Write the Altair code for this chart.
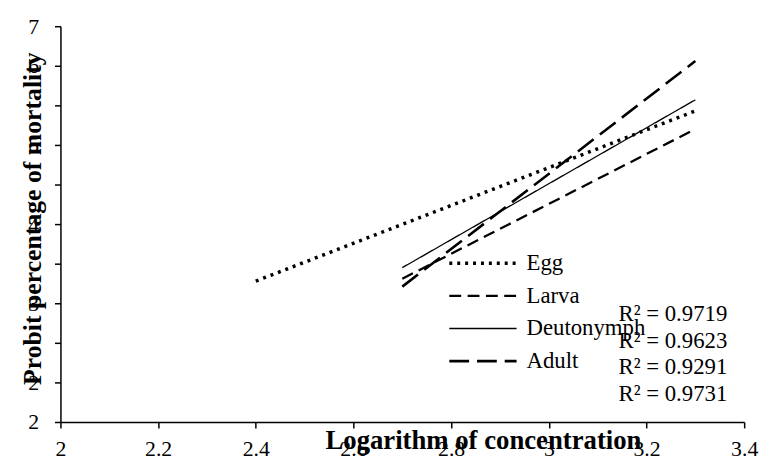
import altair as alt
import pandas as pd

# ---- data ----
series = ["Egg", "Larva", "Deutonymph", "Adult"]
x_start = [2.40, 2.70, 2.70, 2.70]
x_end = [3.30, 3.30, 3.30, 3.30]
y_start = [3.78, 3.81, 3.95, 3.71]
y_end = [5.93, 5.70, 6.07, 6.56]
r2_labels = ["R² = 0.9719", "R² = 0.9623", "R² = 0.9291", "R² = 0.9731"]
x_ticks = [2.0, 2.2, 2.4, 2.6, 2.8, 3.0, 3.2, 3.4]
y_ticks = [2.0, 2.5, 3.0, 3.5, 4.0, 4.5, 5.0, 5.5, 6.0, 6.5, 7.0]

dashes = [[3, 5], [12, 6.5], [1, 0], [20, 8]]
widths = [3.5, 2.3, 1.3, 2.6]

rows = []
for s, xs, xe, ys, ye in zip(series, x_start, x_end, y_start, y_end):
    rows.append({"series": s, "x": xs, "y": ys})
    rows.append({"series": s, "x": xe, "y": ye})
df = pd.DataFrame(rows)

FONT = "Times New Roman, Liberation Serif, serif"

legend = alt.Legend(
    title=None, orient="none", legendX=391, legendY=223,
    symbolType="stroke", symbolSize=4624, clipHeight=33, rowPadding=0,
    labelOffset=8, padding=0, labelFont=FONT, labelFontSize=23,
    labelColor="black", symbolStrokeColor="black",
)

lines = alt.Chart(df).mark_line(color="black").encode(
    x=alt.X("x:Q", scale=alt.Scale(domain=[2, 3.4], nice=False, zero=False),
            axis=alt.Axis(values=x_ticks, format="~g", title="Logarithm of concentration",
                          titleX=427, titleY=27, titleBaseline="alphabetic",
                          titleFontSize=27, titleFontWeight="bold", titleFont=FONT,
                          labelFontSize=22, labelPadding=11, labelFont=FONT)),
    y=alt.Y("y:Q", scale=alt.Scale(domain=[2, 7], nice=False, zero=False),
            axis=alt.Axis(values=y_ticks,
                          labelExpr="datum.value == 7 ? '7' : datum.value == 2 ? '2' : (datum.value % 1 != 0 ? format(floor(datum.value), 'd') : '')",
                          title="Probit percentage of mortality",
                          titleX=-20, titleY=194, titleAngle=-90, titleAlign="center",
                          titleBaseline="alphabetic",
                          titleFontSize=26, titleFontWeight="bold", titleFont=FONT,
                          labelFontSize=22, labelPadding=16, labelFont=FONT)),
    strokeDash=alt.StrokeDash("series:N", scale=alt.Scale(domain=series, range=dashes), legend=legend),
    strokeWidth=alt.StrokeWidth("series:N", scale=alt.Scale(type="ordinal", domain=series, range=widths), legend=legend),
    detail="series:N",
)

r2_text = alt.Chart(pd.DataFrame({"t": ["\n".join(r2_labels)]})).mark_text(
    align="left", baseline="alphabetic", font=FONT, fontSize=23, color="black",
    lineBreak="\n", lineHeight=27,
).encode(text="t:N", x=alt.value(564), y=alt.value(298))

chart = alt.layer(lines, r2_text).properties(
    width=691, height=400,
    autosize=alt.AutoSizeParams(type="none"),
    padding={"left": 53, "top": 16, "right": 16, "bottom": 35},
    background="white",
).configure_view(stroke=None).configure_axis(
    grid=False, domainColor="black", tickColor="black", labelColor="black",
    titleColor="black", domainWidth=1.5, tickWidth=1.5, tickSize=6,
    labelFlush=False, labelOverlap=False,
)

chart.save("out.html", embed_options={"renderer": "svg", "actions": False})
